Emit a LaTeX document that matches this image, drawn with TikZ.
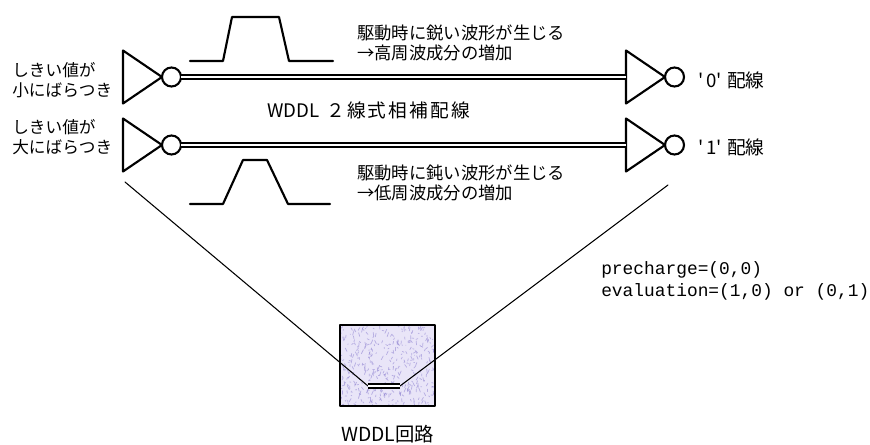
\documentclass[tikz,border=0pt]{standalone}
\usepackage{fontspec}
\newfontfamily\jp{Noto Sans CJK JP}
\setmonofont{Liberation Mono}
\usetikzlibrary{positioning}
\definecolor{lav}{RGB}{233,229,248}
\definecolor{ink}{RGB}{150,138,212}
\tikzset{
  inv/.pic={
    \draw[gate] (0,-26.5) -- (0,26.5) -- (39,0) -- cycle;
    \draw[gate] (48.5,0) circle (9.5);
    \coordinate (-in) at (0,0);
    \coordinate (-out) at (58,0);
  },
}
\begin{document}
\begin{tikzpicture}[x=.75pt,y=-.75pt, line join=round, line cap=round,
  gate/.style={line width=1.6pt},
  wave/.style={line width=1.6pt},
  wire/.style={line width=.9pt, double, double distance=2pt, line cap=butt},
  cone/.style={line width=.8pt},
  jtext/.style={font=\jp\fontsize{12.5}{15}\selectfont, align=left, inner sep=0pt},
  chip/.style={draw, line width=1.6pt, fill=lav, minimum width=71.25pt, minimum height=60.75pt, inner sep=0pt,
    path picture={
      \pgfmathsetseed{11}
      \foreach \i in {1,...,420}{
        \pgfmathsetmacro\dx{rnd*71}
        \pgfmathsetmacro\dy{rnd*60}
        \pgfmathsetmacro\ex{rnd*3-1.5}
        \pgfmathsetmacro\ey{rnd*6-3}
        \draw[ink, opacity=.6, line width=.55pt]
          ([xshift=\dx pt, yshift=\dy pt]path picture bounding box.south west) -- ++(\ex pt,\ey pt);
      }
    }},
]
\useasboundingbox (0,0) rectangle (870,445);

% gates and the two complementary wires
\pic (l0) at (123,77) {inv};
\pic (l1) at (123,145) {inv};
\pic (r0) at (626,77) {inv};
\pic (r1) at (626,145) {inv};
\draw[wire] (l0-out) -- (r0-in);
\draw[wire] (l1-out) -- (r1-in);

% waveforms: sharp and slow edges
\draw[wave] (190,61) -- (223,61) -- (232,17) -- (279,17) -- (289,61) -- (333,61);
\draw[wave] (190,204) -- (223,204) -- (243,160) -- (267,160) -- (288,204) -- (330,204);

% circuit block with zoom lines
\node[chip] (chip) at (387.5,365.5) {};
\coordinate (cl) at (125,182);
\coordinate (cr) at (668,185);
\coordinate (zl) at (368,386);
\coordinate (zr) at (400,386);
\draw[cone] (cl) -- (zl);
\draw[cone] (cr) -- (zr);
\draw[wire, line width=1.1pt, double distance=1.6pt] (zl) -- (zr);
\node[font=\jp\fontsize{14.5}{16}\selectfont, below=10pt of chip] (chipname) {WDDL回路};

% labels
\node[jtext, anchor=west] (th0) at (12,80) {しきい値が\\小にばらつき};
\node[jtext, anchor=west] (th1) at (12,137) {しきい値が\\大にばらつき};
\node[jtext, font=\jp\fontsize{13}{15}\selectfont, anchor=west] (sharp) at (357,43) {駆動時に鋭い波形が生じる\\→高周波成分の増加};
\node[jtext, font=\jp\fontsize{13}{15}\selectfont, anchor=west] (slow) at (357,183) {駆動時に鈍い波形が生じる\\→低周波成分の増加};
\node[jtext, font=\jp\fontsize{14}{16}\selectfont, anchor=west] (pair) at (267,110)
  {WDDL\kern5pt{\addfontfeature{LetterSpace=12}２線式相補配線}};
\node[jtext, font=\jp\fontsize{14}{16}\selectfont, anchor=west] (w0) at (698,80) {'\kern2pt0'\kern4pt配線};
\node[jtext, font=\jp\fontsize{14}{16}\selectfont, anchor=west] (w1) at (698,147) {'\kern2pt1'\kern4pt配線};
\node[jtext, font=\ttfamily\fontsize{13.4}{16.5}\selectfont, anchor=west] (mode) at (601,281)
  {precharge=(0,0)\\evaluation=(1,0) or (0,1)};
\end{tikzpicture}
\end{document}
